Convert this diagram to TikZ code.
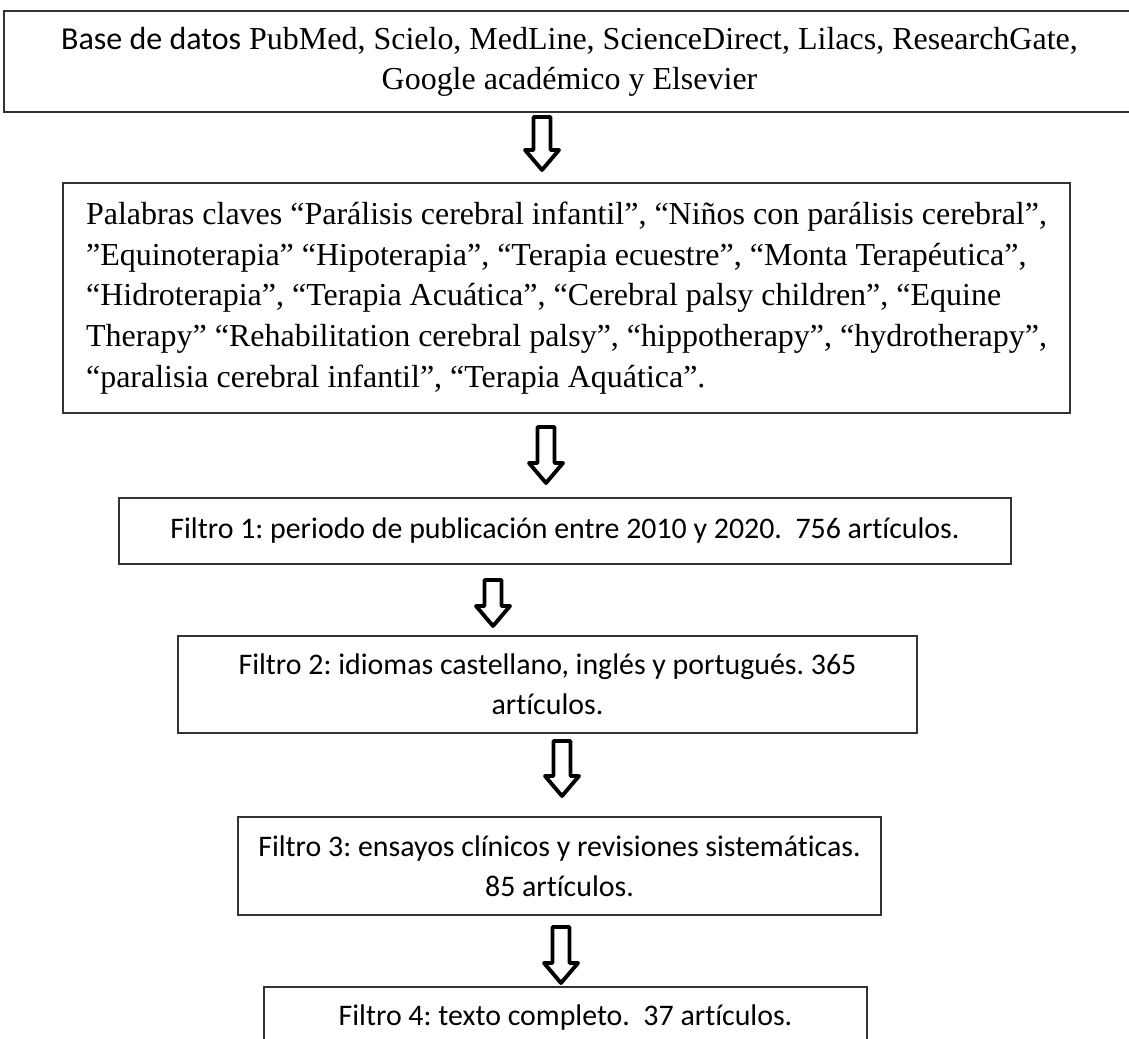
\documentclass[tikz,border=0pt]{standalone}
\usepackage{fontspec}
\setmainfont{Liberation Serif}
\newfontfamily\calibri[Ligatures=NoCommon]{Carlito}
\usetikzlibrary{positioning}
\frenchspacing

% flecha hueca hacia abajo: x, arriba, punta
\newcommand{\flechaabajo}[3]{%
  \draw[flecha] (#1-0.085,#2) -- (#1+0.085,#2) -- (#1+0.085,#3+0.2) -- (#1+0.17,#3+0.2)
    -- (#1,#3) -- (#1-0.17,#3+0.2) -- (#1-0.085,#3+0.2) -- cycle;}

\begin{document}
\begin{tikzpicture}[
      caja/.style={draw=black!80, line width=0.5pt, inner xsep=0.2cm, inner ysep=0pt, align=center},
      times/.style={font=\fontsize{9.1}{11.6}\selectfont},
      filtro/.style={caja, font=\calibri\fontsize{8.5}{11.3}\selectfont},
      flecha/.style={draw=black, line width=1.1pt, line join=round, fill=white}
    ]
    \useasboundingbox (0,0) rectangle (11.29,10.38);
    \node[caja, minimum width=11.31cm, minimum height=1.01cm, font=\fontsize{9.1}{11.4}\selectfont] (bases) at (5.695,9.765)
      {{\calibri Base de datos} PubMed, Scielo, MedLine, ScienceDirect, Lilacs, ResearchGate,\\Google académico y Elsevier};
    \node[caja, times, minimum width=10.07cm, minimum height=2.30cm, align=left] (claves) at (5.665,7.40)
      {Palabras claves “Parálisis cerebral infantil”, “Niños con parálisis cerebral”,\\
       ”Equinoterapia” “Hipoterapia”, “Terapia ecuestre”, “Monta Terapéutica”,\\
       “Hidroterapia”, “Terapia Acuática”, “Cerebral palsy children”, “Equine\\
       Therapy” “Rehabilitation cerebral palsy”, “hippotherapy”, “hydrotherapy”,\\
       “paralisia cerebral infantil”, “Terapia Aquática”.};
    \node[filtro, minimum width=8.92cm, minimum height=0.66cm] (filtro1) at (5.65,5.07)
      {Filtro 1: periodo de publicación entre 2010 y 2020.~ 756 artículos.};
    \node[filtro, minimum width=7.39cm, minimum height=0.97cm] (filtro2) at (5.475,3.535)
      {Filtro 2: idiomas castellano, inglés y portugués. 365\\artículos.};
    \node[filtro, minimum width=6.31cm, minimum height=0.98cm] (filtro3) at (5.595,1.72)
      {Filtro 3: ensayos clínicos y revisiones sistemáticas.\\85 artículos.};
    \node[filtro, minimum width=6.03cm, minimum height=0.62cm] (filtro4) at (5.655,0.20)
      {Filtro 4: texto completo.~ 37 artículos.};

    \flechaabajo{5.42}{9.21}{8.68}
    \flechaabajo{5.46}{6.11}{5.55}
    \flechaabajo{4.93}{4.58}{4.12}
    \flechaabajo{5.62}{2.97}{2.42}
    \flechaabajo{5.61}{1.11}{0.55}
  \end{tikzpicture}
\end{document}
